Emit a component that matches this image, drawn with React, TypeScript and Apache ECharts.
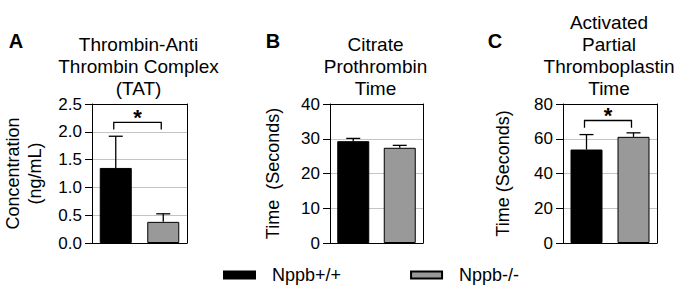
import React, { useEffect, useRef } from "react";
import * as echarts from "echarts";

// ---- data ----
const groups = ["Nppb+/+", "Nppb-/-"];
const panelLetters = ["A", "B", "C"];
const panelTitles = [
  "Thrombin-Anti\nThrombin Complex\n(TAT)",
  "Citrate\nProthrombin\nTime",
  "Activated\nPartial\nThromboplastin\nTime",
];
const yAxisNames = ["Concentration\n(ng/mL)", "Time  (Seconds)", "Time (Seconds)"];
const yMax = [2.5, 40, 80];
const yInterval = [0.5, 10, 20];
const yDecimals = [1, 0, 0];
// means and upper error-bar ends [Nppb+/+, Nppb-/-]
const tatMean = [1.35, 0.38];
const tatUpper = [1.92, 0.525];
const ptMean = [29.3, 27.4];
const ptUpper = [30.1, 28.1];
const apttMean = [53.8, 61.1];
const apttUpper = [62.4, 63.4];
const means = [tatMean, ptMean, apttMean];
const uppers = [tatUpper, ptUpper, apttUpper];
// significance brackets: [panel, top value, drop value]
const brackets = [
  [0, 2.17, 2.04],
  [2, 70.5, 66.3],
];

const FONT = "'Liberation Sans', Arial, sans-serif";
const colors = ["#000000", "#999999"];
const grids = [
  { left: 92, top: 104, width: 95, height: 139 },
  { left: 330, top: 104, width: 93, height: 139 },
  { left: 563, top: 104, width: 94, height: 139 },
];
const nameGaps = [46, 46, 49];

export default function App() {
  const ref = useRef<HTMLDivElement>(null);
  useEffect(() => {
    if (!ref.current) return;
    const chart = echarts.init(ref.current, null, { renderer: "svg" });
    const xAxis: any[] = [];
    const yAxis: any[] = [];
    const series: any[] = [];
    grids.forEach((g, i) => {
      xAxis.push({
        gridIndex: i,
        type: "category",
        data: groups,
        axisLine: { lineStyle: { color: "#000", width: 1 } },
        axisTick: { show: false },
        axisLabel: { show: false },
      });
      xAxis.push({
        gridIndex: i,
        type: "category",
        position: "top",
        data: groups,
        axisLine: { show: true, onZero: false, lineStyle: { color: "#000", width: 1 } },
        axisTick: { show: false },
        axisLabel: { show: false },
      });
      yAxis.push({
        gridIndex: i,
        type: "value",
        min: 0,
        max: yMax[i],
        interval: yInterval[i],
        name: yAxisNames[i],
        nameLocation: "middle",
        nameGap: nameGaps[i],
        nameTextStyle: { fontSize: 18, fontFamily: FONT, color: "#000", lineHeight: 22 },
        axisLine: { show: true, lineStyle: { color: "#000", width: 1 } },
        axisTick: { show: true, length: 7, lineStyle: { color: "#000" } },
        axisLabel: {
          fontSize: 17,
          fontFamily: FONT,
          color: "#000",
          margin: 10,
          formatter: (v: number) => v.toFixed(yDecimals[i]),
        },
        splitLine: { show: true, lineStyle: { color: "#c4c4c4", width: 1 } },
      });
      yAxis.push({
        gridIndex: i,
        type: "value",
        position: "right",
        min: 0,
        max: yMax[i],
        interval: yInterval[i],
        axisLine: { show: true, lineStyle: { color: "#000", width: 1 } },
        axisTick: { show: false },
        axisLabel: { show: false },
        splitLine: { show: false },
      });
      groups.forEach((name, k) => {
        series.push({
          type: "bar",
          name,
          xAxisIndex: i * 2,
          yAxisIndex: i * 2,
          barWidth: 32,
          barGap: "-100%",
          itemStyle: { color: colors[k], borderColor: "#000", borderWidth: 1 },
          data: groups.map((_, j) => (j === k ? means[i][j] : "-")),
          z: 3,
        });
      });
      series.push({
        type: "custom",
        xAxisIndex: i * 2,
        yAxisIndex: i * 2,
        z: 4,
        silent: true,
        data: groups.map((_, j) => [j, means[i][j], uppers[i][j]]),
        renderItem: (_p: any, api: any) => {
          const base = api.coord([api.value(0), api.value(1)]);
          const top = api.coord([api.value(0), api.value(2)]);
          return {
            type: "group",
            children: [
              {
                type: "line",
                shape: { x1: base[0], y1: base[1], x2: top[0], y2: top[1] },
                style: { stroke: "#000", lineWidth: 1.3 },
              },
              {
                type: "line",
                shape: { x1: top[0] - 7, y1: top[1], x2: top[0] + 7, y2: top[1] },
                style: { stroke: "#000", lineWidth: 1.3 },
              },
            ],
          };
        },
      });
    });
    brackets.forEach((b) => {
      const i = b[0];
      series.push({
        type: "custom",
        xAxisIndex: i * 2,
        yAxisIndex: i * 2,
        z: 5,
        silent: true,
        data: [[0, 1, b[1], b[2]]],
        renderItem: (_p: any, api: any) => {
          const p0 = api.coord([api.value(0), api.value(2)]);
          const p1 = api.coord([api.value(1), api.value(2)]);
          const d = api.coord([api.value(0), api.value(3)]);
          const x0 = p0[0] - 2;
          const x1 = p1[0] - 2;
          return {
            type: "group",
            children: [
              {
                type: "polyline",
                shape: { points: [[x0, d[1]], [x0, p0[1]], [x1, p0[1]], [x1, d[1]]] },
                style: { stroke: "#000", lineWidth: 1.3, fill: null },
              },
              {
                type: "text",
                x: (x0 + x1) / 2,
                y: p0[1] - 5,
                style: {
                  text: "*",
                  fontSize: 22,
                  fontWeight: "bold",
                  fontFamily: FONT,
                  fill: "#000",
                  align: "center",
                  verticalAlign: "middle",
                },
              },
            ],
          };
        },
      });
    });

    const graphic: any[] = [];
    grids.forEach((g, i) => {
      graphic.push({
        type: "text",
        x: g.left + g.width / 2 - 1,
        y: 99,
        style: {
          text: panelTitles[i],
          fontSize: 19,
          fontFamily: FONT,
          fill: "#000",
          align: "center",
          verticalAlign: "bottom",
          lineHeight: 22,
        },
      });
    });
    const letterX = [16, 273, 495];
    panelLetters.forEach((t, i) => {
      graphic.push({
        type: "text",
        x: letterX[i],
        y: 41,
        style: {
          text: t,
          fontSize: 20,
          fontWeight: "bold",
          fontFamily: FONT,
          fill: "#000",
          align: "center",
          verticalAlign: "middle",
        },
      });
    });

    chart.setOption({
      animation: false,
      backgroundColor: "#fff",
      textStyle: { fontFamily: FONT },
      grid: grids.map((g) => ({ ...g })),
      xAxis,
      yAxis,
      series,
      graphic,
      legend: {
        data: groups,
        left: 223,
        top: 266,
        itemWidth: 31,
        itemHeight: 7,
        itemGap: 69,
        icon: "rect",
        padding: 0,
        textStyle: { fontSize: 18, fontFamily: FONT, color: "#000", padding: [0, 0, 0, 12] },
      },
    });
    return () => chart.dispose();
  }, []);
  return (
    <div
      ref={ref}
      style={{ position: "absolute", left: 0, top: 0, width: 685, height: 297 }}
    />
  );
}
